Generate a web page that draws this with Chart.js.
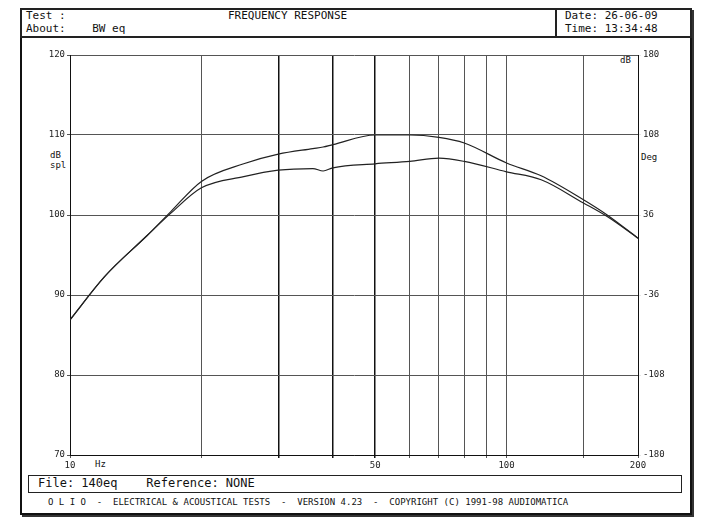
<!DOCTYPE html>
<html>
<head>
<script src="https://cdn.jsdelivr.net/npm/chart.js@4"></script>
<style>
body { margin:0; background:#fff; font-family:"DejaVu Sans Mono", monospace; font-size:11px; color:#111; }
.box { position:absolute; border:1px solid #222; }
.t { position:absolute; white-space:pre; }
</style>
</head>
<body>
<div class="box" style="left:20px;top:8px;width:668px;height:503px;border:2px solid #111;box-shadow:2px 2px 0 #333"></div>
<div class="box" style="left:20px;top:8px;width:668px;height:26px;border-width:2px"></div>
<div class="box" style="left:555px;top:8px;width:133px;height:26px;border-width:2px"></div>
<div class="t" style="left:26px;top:9px">Test :</div>
<div class="t" style="left:228px;top:9px">FREQUENCY RESPONSE</div>
<div class="t" style="left:26px;top:22px">About:    BW eq</div>
<div class="t" style="left:565px;top:9px">Date: 26-06-09</div>
<div class="t" style="left:565px;top:22px">Time: 13:34:48</div>
<div class="t" style="left:50px;top:150px;font-size:9px;line-height:10px">dB<br>spl</div>
<div class="t" style="left:641px;top:152px;font-size:9px">Deg</div>
<div class="t" style="left:620px;top:55px;font-size:9px">dB</div>
<div class="t" style="left:95px;top:459px;font-size:9px">Hz</div>
<div class="box" style="left:28px;top:475px;width:652px;height:16px"></div>
<div class="t" style="left:38px;top:476px;font-size:12px">File: 140eq    Reference: NONE</div>
<div class="t" style="left:48px;top:497px;font-size:9px">O L I O  -  ELECTRICAL &amp; ACOUSTICAL TESTS  -  VERSION 4.23  -  COPYRIGHT (C) 1991-98 AUDIOMATICA</div>
<div style="position:absolute;left:20px;top:40px;width:670px;height:432px"><canvas id="c"></canvas></div>
<script>
// frequencies (Hz) and levels (dB spl)
const freqs = [10, 12, 15, 17, 20, 25, 30, 36, 38, 40, 50, 60, 70, 80, 100, 120, 150, 170, 200];
const upper = [86.9, 92.3, 97.4, 100.4, 104.2, 106.4, 107.6, 108.3, 108.5, 108.8, 110, 110, 109.7, 109, 106.5, 104.9, 101.9, 100, 97.1];
const lower = [86.9, 92.3, 97.4, 100.2, 103.4, 104.8, 105.6, 105.8, 105.5, 105.9, 106.4, 106.7, 107.1, 106.7, 105.4, 104.4, 101.5, 99.8, 97.1];
const gridFreqs = [10, 20, 30, 40, 50, 60, 70, 80, 90, 100, 150, 200];
const xLabels = [10, 50, 100, 200];
const degTicks = [-180, -108, -36, 36, 108, 180];

const pts = arr => freqs.map((f, i) => ({ x: f, y: arr[i] }));
const fontSm = { family: "DejaVu Sans Mono", size: 9 };
const heavy = [30, 40, 50];

new Chart(document.getElementById("c"), {
    type: "line",
    data: {
        datasets: [
            { data: pts(upper), borderColor: "#222", borderWidth: 1.2, pointRadius: 0, cubicInterpolationMode: "monotone", yAxisID: "y" },
            { data: pts(lower), borderColor: "#222", borderWidth: 1.2, pointRadius: 0, cubicInterpolationMode: "monotone", yAxisID: "y" }
        ]
    },
    options: {
        responsive: true,
        maintainAspectRatio: false,
        animation: false,
        layout: { padding: { top: 15 } },
        plugins: { legend: { display: false }, tooltip: { enabled: false } },
        scales: {
            x: {
                type: "logarithmic", min: 10, max: 200,
                afterBuildTicks: ax => { ax.ticks = gridFreqs.map(v => ({ value: v })); },
                afterFit: ax => { ax.height = 17; },
                ticks: { autoSkip: false, maxRotation: 0, padding: 2, color: "#222", font: fontSm,
                    callback: v => xLabels.includes(v) ? String(v) : "" },
                grid: { color: c => heavy.includes(c.tick && c.tick.value) ? "#111" : "#555",
                        lineWidth: c => heavy.includes(c.tick && c.tick.value) ? 1.5 : 1, tickLength: 3 },
                border: { color: "#111" }
            },
            y: {
                min: 70, max: 120,
                afterFit: ax => { ax.width = 50; },
                ticks: { stepSize: 10, color: "#222", font: fontSm, padding: 2 },
                grid: { color: "#555", tickLength: 3 },
                border: { color: "#111" }
            },
            y2: {
                position: "right", min: -180, max: 180,
                afterBuildTicks: ax => { ax.ticks = degTicks.map(v => ({ value: v })); },
                afterFit: ax => { ax.width = 52; },
                ticks: { color: "#222", font: fontSm, padding: 2 },
                grid: { drawOnChartArea: false, tickLength: 3 },
                border: { color: "#111" }
            }
        }
    }
});
</script>
</body>
</html>
